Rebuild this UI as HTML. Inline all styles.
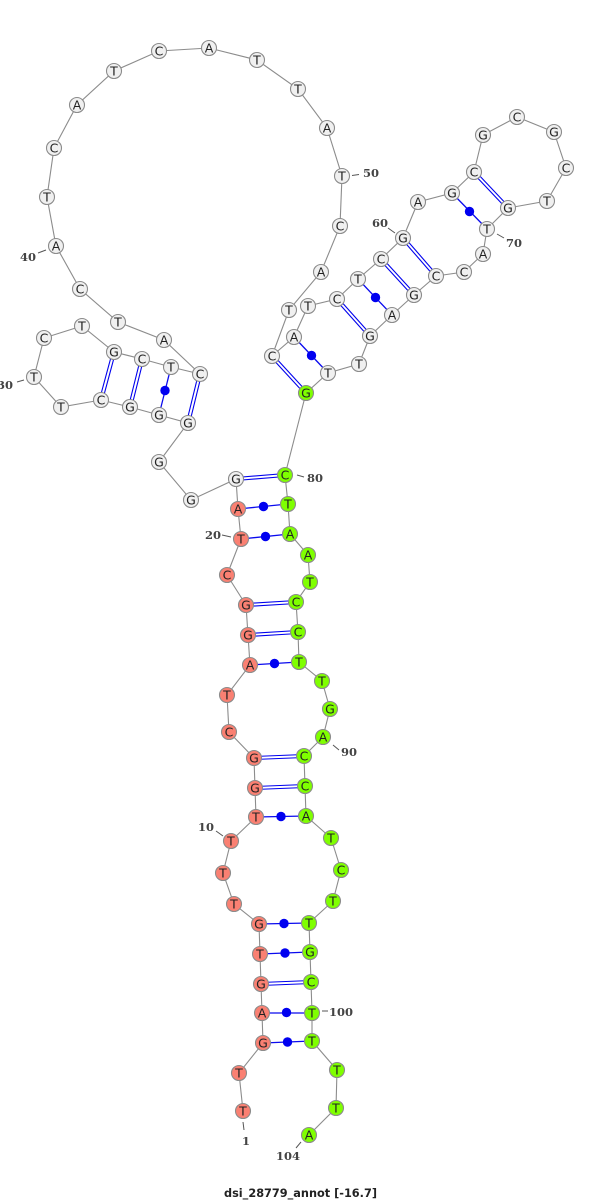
<!DOCTYPE html>
<html><head><meta charset="utf-8"><style>
html,body{margin:0;padding:0;background:#fff}
svg{display:block}
.b{fill:none;stroke:#8c8c8c;stroke-width:1.1}
.p line{stroke:#0000ee;stroke-width:1.1}
.s line{stroke:#0a0aee;stroke-width:1.3}
.s circle{fill:#0000f0;stroke:none}
.t line{stroke:#555;stroke-width:1}
.n circle{stroke:#8c8c8c;stroke-width:1.1}
.w circle{fill:#f0f0f0}.r circle{fill:#fa8072}.g circle{fill:#7fff00}
.n text{font:12.5px "DejaVu Sans",sans-serif;fill:#222;text-anchor:middle;transform:translateY(0.5px)}
.l text{font:bold 11.5px "DejaVu Serif",serif;fill:#444}
</style></head><body>
<svg width="600" height="1201" viewBox="0 0 600 1201" xmlns="http://www.w3.org/2000/svg">
<polyline class="b" points="243,1111 239,1073 263,1043 262,1013 261,984 260,954 259,924 234,904 223,873 231,841 256,817 255,788 254,758 229,732 227,695 250,665 248,635 246,605 227,575 241,539 238,509 236,479 191,500 159,462 188,423 159,415 130,407 101,400 61,407 34,377 44,338 82,326 114,352 142,359 171,367 200,374 164,340 118,322 80,289 56,246 47,197 54,148 77,105 114,71 159,51 209,48 257,60 298,89 327,128 342,176 340,226 321,272 289,310 272,356 294,337 308,306 337,299 358,279 381,259 403,238 418,202 452,193 474,172 483,135 517,117 554,132 566,168 547,201 508,208 487,229 483,254 464,272 436,276 414,295 392,315 370,336 359,364 328,373 306,393 285,475 288,504 290,534 308,555 310,582 296,602 298,632 299,662 322,681 330,709 323,737 304,756 305,786 306,816 331,838 341,870 333,901 309,923 310,952 311,982 312,1013 312,1041 337,1070 336,1108 309,1135"/>
<g class="p">
<line x1="236" y1="477.5" x2="285" y2="473.5"/><line x1="236" y1="480.5" x2="285" y2="476.5"/>
<line x1="246" y1="603.5" x2="296" y2="600.5"/><line x1="246" y1="606.5" x2="296" y2="603.5"/>
<line x1="248" y1="633.5" x2="298" y2="630.5"/><line x1="248" y1="636.5" x2="298" y2="633.5"/>
<line x1="254" y1="756.5" x2="304" y2="754.5"/><line x1="254" y1="759.5" x2="304" y2="757.5"/>
<line x1="255" y1="786.5" x2="305" y2="784.5"/><line x1="255" y1="789.5" x2="305" y2="787.5"/>
<line x1="261" y1="982.5" x2="311" y2="980.5"/><line x1="261" y1="985.5" x2="311" y2="983.5"/>
<line x1="198.5" y1="373.6" x2="186.5" y2="422.6"/><line x1="201.5" y1="374.4" x2="189.5" y2="423.4"/>
<line x1="140.5" y1="358.6" x2="128.5" y2="406.6"/><line x1="143.5" y1="359.4" x2="131.5" y2="407.4"/>
<line x1="112.5" y1="351.6" x2="99.5" y2="399.6"/><line x1="115.5" y1="352.4" x2="102.5" y2="400.4"/>
<line x1="273.1" y1="355" x2="307.1" y2="392"/><line x1="270.9" y1="357" x2="304.9" y2="394"/>
<line x1="338.1" y1="298" x2="371.1" y2="335"/><line x1="335.9" y1="300" x2="368.9" y2="337"/>
<line x1="382.1" y1="258" x2="415.1" y2="294"/><line x1="379.9" y1="260" x2="412.9" y2="296"/>
<line x1="404.1" y1="237" x2="437.1" y2="275"/><line x1="401.9" y1="239" x2="434.9" y2="277"/>
<line x1="475.1" y1="171" x2="509.1" y2="207"/><line x1="472.9" y1="173" x2="506.9" y2="209"/>
</g>
<g class="s">
<line x1="238" y1="509" x2="288" y2="504"/><circle cx="263.5" cy="506.5" r="4.7"/>
<line x1="241" y1="539" x2="290" y2="534"/><circle cx="265.5" cy="536.5" r="4.7"/>
<line x1="250" y1="665" x2="299" y2="662"/><circle cx="274.5" cy="663.5" r="4.7"/>
<line x1="256" y1="817" x2="306" y2="816"/><circle cx="281" cy="816.5" r="4.7"/>
<line x1="259" y1="924" x2="309" y2="923"/><circle cx="284" cy="923.5" r="4.7"/>
<line x1="260" y1="954" x2="310" y2="952"/><circle cx="285" cy="953" r="4.7"/>
<line x1="262" y1="1013" x2="312" y2="1013"/><circle cx="286.5" cy="1012.5" r="4.7"/>
<line x1="263" y1="1043" x2="312" y2="1041"/><circle cx="287.5" cy="1042" r="4.7"/>
<line x1="171" y1="367" x2="159" y2="415"/><circle cx="165" cy="390.5" r="4.7"/>
<line x1="294" y1="337" x2="328" y2="373"/><circle cx="311.5" cy="355.5" r="4.7"/>
<line x1="358" y1="279" x2="392" y2="315"/><circle cx="375.5" cy="297.5" r="4.7"/>
<line x1="452" y1="193" x2="487" y2="229"/><circle cx="469.5" cy="211.5" r="4.7"/>
</g>
<g class="t">
<line x1="216" y1="831" x2="223" y2="836"/>
<line x1="222" y1="535" x2="231" y2="537"/>
<line x1="17" y1="382" x2="24" y2="380"/>
<line x1="38" y1="253" x2="46" y2="250"/>
<line x1="352" y1="175.500" x2="359" y2="174.500"/>
<line x1="388" y1="228" x2="395" y2="233"/>
<line x1="497" y1="234" x2="504" y2="238"/>
<line x1="297" y1="475" x2="304" y2="477"/>
<line x1="333" y1="745" x2="339" y2="750"/>
<line x1="322" y1="1011" x2="328" y2="1011"/>
<line x1="296" y1="1148" x2="301" y2="1142"/>
<line x1="243" y1="1122" x2="244" y2="1130"/>
</g>
<g class="l">
<text x="198" y="831">10</text><text x="205" y="539">20</text><text x="-3" y="389">30</text><text x="20" y="261">40</text><text x="363" y="177">50</text><text x="372" y="227">60</text><text x="506" y="247">70</text><text x="307" y="482">80</text><text x="341" y="756">90</text><text x="329" y="1016">100</text><text x="276" y="1160">104</text><text x="242" y="1145">1</text>
</g>
<text x="224" y="1197" textLength="153" lengthAdjust="spacingAndGlyphs" style="font:bold 11.5px 'DejaVu Sans',sans-serif;fill:#222">dsi_28779_annot [-16.7]</text>
<g class="n r">
<circle cx="243" cy="1111" r="7.500"/><text x="243" y="1115">T</text>
<circle cx="239" cy="1073" r="7.500"/><text x="239" y="1077">T</text>
<circle cx="263" cy="1043" r="7.500"/><text x="263" y="1047">G</text>
<circle cx="262" cy="1013" r="7.500"/><text x="262" y="1017">A</text>
<circle cx="261" cy="984" r="7.500"/><text x="261" y="988">G</text>
<circle cx="260" cy="954" r="7.500"/><text x="260" y="958">T</text>
<circle cx="259" cy="924" r="7.500"/><text x="259" y="928">G</text>
<circle cx="234" cy="904" r="7.500"/><text x="234" y="908">T</text>
<circle cx="223" cy="873" r="7.500"/><text x="223" y="877">T</text>
<circle cx="231" cy="841" r="7.500"/><text x="231" y="845">T</text>
<circle cx="256" cy="817" r="7.500"/><text x="256" y="821">T</text>
<circle cx="255" cy="788" r="7.500"/><text x="255" y="792">G</text>
<circle cx="254" cy="758" r="7.500"/><text x="254" y="762">G</text>
<circle cx="229" cy="732" r="7.500"/><text x="229" y="736">C</text>
<circle cx="227" cy="695" r="7.500"/><text x="227" y="699">T</text>
<circle cx="250" cy="665" r="7.500"/><text x="250" y="669">A</text>
<circle cx="248" cy="635" r="7.500"/><text x="248" y="639">G</text>
<circle cx="246" cy="605" r="7.500"/><text x="246" y="609">G</text>
<circle cx="227" cy="575" r="7.500"/><text x="227" y="579">C</text>
<circle cx="241" cy="539" r="7.500"/><text x="241" y="543">T</text>
<circle cx="238" cy="509" r="7.500"/><text x="238" y="513">A</text>
</g>
<g class="n w">
<circle cx="236" cy="479" r="7.500"/><text x="236" y="483">G</text>
<circle cx="191" cy="500" r="7.500"/><text x="191" y="504">G</text>
<circle cx="159" cy="462" r="7.500"/><text x="159" y="466">G</text>
<circle cx="188" cy="423" r="7.500"/><text x="188" y="427">G</text>
<circle cx="159" cy="415" r="7.500"/><text x="159" y="419">G</text>
<circle cx="130" cy="407" r="7.500"/><text x="130" y="411">G</text>
<circle cx="101" cy="400" r="7.500"/><text x="101" y="404">C</text>
<circle cx="61" cy="407" r="7.500"/><text x="61" y="411">T</text>
<circle cx="34" cy="377" r="7.500"/><text x="34" y="381">T</text>
<circle cx="44" cy="338" r="7.500"/><text x="44" y="342">C</text>
<circle cx="82" cy="326" r="7.500"/><text x="82" y="330">T</text>
<circle cx="114" cy="352" r="7.500"/><text x="114" y="356">G</text>
<circle cx="142" cy="359" r="7.500"/><text x="142" y="363">C</text>
<circle cx="171" cy="367" r="7.500"/><text x="171" y="371">T</text>
<circle cx="200" cy="374" r="7.500"/><text x="200" y="378">C</text>
<circle cx="164" cy="340" r="7.500"/><text x="164" y="344">A</text>
<circle cx="118" cy="322" r="7.500"/><text x="118" y="326">T</text>
<circle cx="80" cy="289" r="7.500"/><text x="80" y="293">C</text>
<circle cx="56" cy="246" r="7.500"/><text x="56" y="250">A</text>
<circle cx="47" cy="197" r="7.500"/><text x="47" y="201">T</text>
<circle cx="54" cy="148" r="7.500"/><text x="54" y="152">C</text>
<circle cx="77" cy="105" r="7.500"/><text x="77" y="109">A</text>
<circle cx="114" cy="71" r="7.500"/><text x="114" y="75">T</text>
<circle cx="159" cy="51" r="7.500"/><text x="159" y="55">C</text>
<circle cx="209" cy="48" r="7.500"/><text x="209" y="52">A</text>
<circle cx="257" cy="60" r="7.500"/><text x="257" y="64">T</text>
<circle cx="298" cy="89" r="7.500"/><text x="298" y="93">T</text>
<circle cx="327" cy="128" r="7.500"/><text x="327" y="132">A</text>
<circle cx="342" cy="176" r="7.500"/><text x="342" y="180">T</text>
<circle cx="340" cy="226" r="7.500"/><text x="340" y="230">C</text>
<circle cx="321" cy="272" r="7.500"/><text x="321" y="276">A</text>
<circle cx="289" cy="310" r="7.500"/><text x="289" y="314">T</text>
<circle cx="272" cy="356" r="7.500"/><text x="272" y="360">C</text>
<circle cx="294" cy="337" r="7.500"/><text x="294" y="341">A</text>
<circle cx="308" cy="306" r="7.500"/><text x="308" y="310">T</text>
<circle cx="337" cy="299" r="7.500"/><text x="337" y="303">C</text>
<circle cx="358" cy="279" r="7.500"/><text x="358" y="283">T</text>
<circle cx="381" cy="259" r="7.500"/><text x="381" y="263">C</text>
<circle cx="403" cy="238" r="7.500"/><text x="403" y="242">G</text>
<circle cx="418" cy="202" r="7.500"/><text x="418" y="206">A</text>
<circle cx="452" cy="193" r="7.500"/><text x="452" y="197">G</text>
<circle cx="474" cy="172" r="7.500"/><text x="474" y="176">C</text>
<circle cx="483" cy="135" r="7.500"/><text x="483" y="139">G</text>
<circle cx="517" cy="117" r="7.500"/><text x="517" y="121">C</text>
<circle cx="554" cy="132" r="7.500"/><text x="554" y="136">G</text>
<circle cx="566" cy="168" r="7.500"/><text x="566" y="172">C</text>
<circle cx="547" cy="201" r="7.500"/><text x="547" y="205">T</text>
<circle cx="508" cy="208" r="7.500"/><text x="508" y="212">G</text>
<circle cx="487" cy="229" r="7.500"/><text x="487" y="233">T</text>
<circle cx="483" cy="254" r="7.500"/><text x="483" y="258">A</text>
<circle cx="464" cy="272" r="7.500"/><text x="464" y="276">C</text>
<circle cx="436" cy="276" r="7.500"/><text x="436" y="280">C</text>
<circle cx="414" cy="295" r="7.500"/><text x="414" y="299">G</text>
<circle cx="392" cy="315" r="7.500"/><text x="392" y="319">A</text>
<circle cx="370" cy="336" r="7.500"/><text x="370" y="340">G</text>
<circle cx="359" cy="364" r="7.500"/><text x="359" y="368">T</text>
<circle cx="328" cy="373" r="7.500"/><text x="328" y="377">T</text>
</g>
<g class="n g">
<circle cx="306" cy="393" r="7.500"/><text x="306" y="397">G</text>
<circle cx="285" cy="475" r="7.500"/><text x="285" y="479">C</text>
<circle cx="288" cy="504" r="7.500"/><text x="288" y="508">T</text>
<circle cx="290" cy="534" r="7.500"/><text x="290" y="538">A</text>
<circle cx="308" cy="555" r="7.500"/><text x="308" y="559">A</text>
<circle cx="310" cy="582" r="7.500"/><text x="310" y="586">T</text>
<circle cx="296" cy="602" r="7.500"/><text x="296" y="606">C</text>
<circle cx="298" cy="632" r="7.500"/><text x="298" y="636">C</text>
<circle cx="299" cy="662" r="7.500"/><text x="299" y="666">T</text>
<circle cx="322" cy="681" r="7.500"/><text x="322" y="685">T</text>
<circle cx="330" cy="709" r="7.500"/><text x="330" y="713">G</text>
<circle cx="323" cy="737" r="7.500"/><text x="323" y="741">A</text>
<circle cx="304" cy="756" r="7.500"/><text x="304" y="760">C</text>
<circle cx="305" cy="786" r="7.500"/><text x="305" y="790">C</text>
<circle cx="306" cy="816" r="7.500"/><text x="306" y="820">A</text>
<circle cx="331" cy="838" r="7.500"/><text x="331" y="842">T</text>
<circle cx="341" cy="870" r="7.500"/><text x="341" y="874">C</text>
<circle cx="333" cy="901" r="7.500"/><text x="333" y="905">T</text>
<circle cx="309" cy="923" r="7.500"/><text x="309" y="927">T</text>
<circle cx="310" cy="952" r="7.500"/><text x="310" y="956">G</text>
<circle cx="311" cy="982" r="7.500"/><text x="311" y="986">C</text>
<circle cx="312" cy="1013" r="7.500"/><text x="312" y="1017">T</text>
<circle cx="312" cy="1041" r="7.500"/><text x="312" y="1045">T</text>
<circle cx="337" cy="1070" r="7.500"/><text x="337" y="1074">T</text>
<circle cx="336" cy="1108" r="7.500"/><text x="336" y="1112">T</text>
<circle cx="309" cy="1135" r="7.500"/><text x="309" y="1139">A</text>
</g>
</svg>
</body></html>
